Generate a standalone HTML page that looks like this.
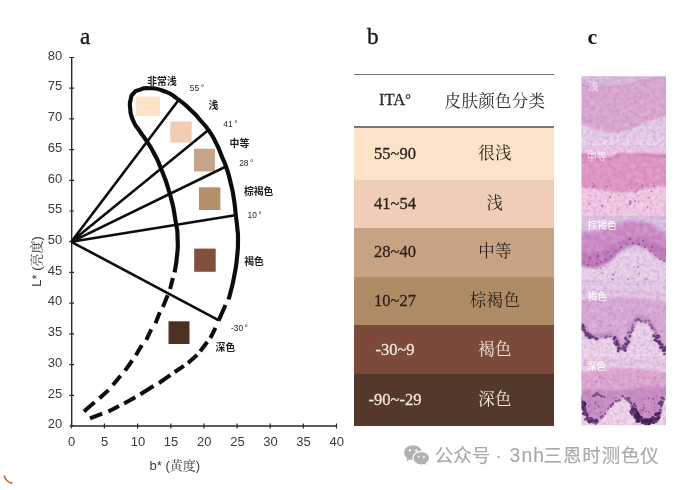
<!DOCTYPE html>
<html lang="zh"><head><meta charset="utf-8"><title>ITA skin colour classification</title>
<style>
html,body{margin:0;padding:0;background:#fff;}
body{width:677px;height:490px;position:relative;overflow:hidden;font-family:"Liberation Serif","Noto Serif CJK SC",serif;}
#chart{position:absolute;left:0;top:0;}
.pl{position:absolute;font-family:"Liberation Serif",serif;font-size:23.3px;line-height:24px;color:#1a1a1a;-webkit-text-stroke:0.35px #1a1a1a;filter:blur(0.35px);}
.tbl{position:absolute;left:353.5px;top:0;width:200.5px;height:490px;filter:blur(0.4px);}
.hl{position:absolute;left:0;width:100%;height:1.6px;background:#777;}
.hd{position:absolute;left:0;width:100%;top:76px;height:51px;color:#2a2a2a;}
.row{position:absolute;left:0;width:100%;}
.c1,.c2{position:absolute;top:50%;transform:translate(-50%,-50%);white-space:nowrap;font-size:16.5px;line-height:20px;}
.c1{left:41.5px;-webkit-text-stroke:0.3px currentColor;}
.c2{left:141.5px;letter-spacing:0.3px}
.wm{position:absolute;top:444.3px;font-family:"Liberation Sans","Noto Sans CJK SC",sans-serif;font-size:18.5px;line-height:24px;color:#a9a9a9;font-weight:400;-webkit-text-stroke:0.15px #a9a9a9;white-space:nowrap;filter:blur(0.3px);}
</style></head><body>
<svg id="chart" width="677" height="490" viewBox="0 0 677 490">
<defs><filter id="soft" x="-5%" y="-5%" width="110%" height="110%"><feGaussianBlur stdDeviation="0.45"/></filter></defs>
<g filter="url(#soft)">
<g stroke="#2a2a2a" stroke-width="1.4" fill="none">
<path d="M71.7,57.5 V426.7 M71,426 H336.6"/>
<path d="M69.3 426.0 H74 M69.3 395.3 H74 M69.3 364.6 H74 M69.3 333.9 H74 M69.3 303.2 H74 M69.3 272.4 H74 M69.3 241.7 H74 M69.3 211.0 H74 M69.3 180.3 H74 M69.3 149.6 H74 M69.3 118.9 H74 M69.3 88.2 H74 M69.3 57.5 H74 M71.3,423.6 V428.4 M104.4,423.6 V428.4 M137.6,423.6 V428.4 M170.8,423.6 V428.4 M203.9,423.6 V428.4 M237.1,423.6 V428.4 M270.2,423.6 V428.4 M303.3,423.6 V428.4 M336.5,423.6 V428.4 " stroke-width="1.2"/>
</g>
<g font-family="Liberation Sans, Arial, sans-serif" font-size="13" fill="#3a3a3a">
<text x="62.3" y="428.2" text-anchor="end">20</text>
<text x="62.3" y="397.5" text-anchor="end">25</text>
<text x="62.3" y="366.8" text-anchor="end">30</text>
<text x="62.3" y="336.1" text-anchor="end">35</text>
<text x="62.3" y="305.4" text-anchor="end">40</text>
<text x="62.3" y="274.6" text-anchor="end">45</text>
<text x="62.3" y="243.9" text-anchor="end">50</text>
<text x="62.3" y="213.2" text-anchor="end">55</text>
<text x="62.3" y="182.5" text-anchor="end">60</text>
<text x="62.3" y="151.8" text-anchor="end">65</text>
<text x="62.3" y="121.1" text-anchor="end">70</text>
<text x="62.3" y="90.4" text-anchor="end">75</text>
<text x="62.3" y="59.7" text-anchor="end">80</text>
<text x="71.6" y="446" text-anchor="middle">0</text>
<text x="104.7" y="446" text-anchor="middle">5</text>
<text x="137.9" y="446" text-anchor="middle">10</text>
<text x="171.1" y="446" text-anchor="middle">15</text>
<text x="204.2" y="446" text-anchor="middle">20</text>
<text x="237.4" y="446" text-anchor="middle">25</text>
<text x="270.5" y="446" text-anchor="middle">30</text>
<text x="303.6" y="446" text-anchor="middle">35</text>
<text x="336.8" y="446" text-anchor="middle">40</text>
</g>
<text x="149.5" y="469.5" font-family="Liberation Sans, 'Noto Serif CJK SC', sans-serif" font-size="13" fill="#3a3a3a">b* (黄度)</text>
<text transform="translate(40.5,286.7) rotate(-90)" font-family="Liberation Sans, 'Noto Serif CJK SC', sans-serif" font-size="13" fill="#3a3a3a">L* (亮度)</text>
<rect x="135.7" y="96.6" width="24.3" height="19.4" fill="#fce2c6"/>
<rect x="170.2" y="121.4" width="21.5" height="21.2" fill="#f3ccb4"/>
<rect x="194.0" y="148.7" width="20.9" height="22.8" fill="#c7a489"/>
<rect x="199.0" y="187.3" width="21.4" height="22.7" fill="#b58f6c"/>
<rect x="194.2" y="248.6" width="21.5" height="23.2" fill="#814f3a"/>
<rect x="168.5" y="321.3" width="21.0" height="22.7" fill="#4e3324"/>
<path d="M71.3,241.8 L178.6,100.0 M71.3,241.8 L208.4,130.0 M71.3,241.8 L226.0,166.5 M71.3,241.8 L235.3,215.2 M71.3,241.8 L218.9,320.4 " stroke="#0c0c0c" stroke-width="2.6" fill="none" stroke-linecap="butt"/>
<path d="M174.6,272.4 C175.4,266.9 176.0,267.3 177.0,256.0 C178.0,244.7 178.1,250.4 177.6,238.4 C177.1,226.4 177.9,234.6 175.4,220.0 C172.9,205.4 174.8,211.6 170.0,194.5 C165.2,177.4 166.4,182.4 161.0,168.6 C155.6,154.8 158.5,162.1 153.8,153.0 C149.1,143.9 151.5,148.6 146.8,141.3 C142.1,134.0 144.2,138.0 139.6,131.0 C135.0,124.0 136.1,127.8 133.0,120.3 C129.9,112.8 130.9,115.7 130.2,108.6 C129.5,101.5 129.6,104.2 130.8,99.0 C132.0,93.8 130.9,96.0 133.8,93.0 C136.7,90.0 134.5,91.5 139.4,89.9 C144.3,88.3 140.8,87.9 148.6,88.2 C156.4,88.5 153.4,87.2 162.9,90.7 C172.4,94.2 167.7,92.0 177.1,98.6 C186.5,105.2 183.2,102.9 191.2,110.4 C199.2,117.9 195.0,114.1 201.0,121.0 C207.0,127.9 204.0,123.6 209.2,131.2 C214.4,138.8 212.2,135.3 216.5,143.9 C220.8,152.5 218.7,148.9 222.0,156.9 C225.3,164.9 223.6,159.4 226.5,168.0 C229.4,176.6 228.1,172.4 230.6,182.7 C233.1,193.0 232.2,188.1 233.9,199.0 C235.6,209.9 234.7,205.6 235.8,215.3 C236.9,225.0 236.6,219.8 237.3,228.0 C238.0,236.2 238.1,230.4 238.0,240.0 C237.9,249.6 238.3,245.0 237.1,256.7 C235.9,268.4 236.5,263.5 234.4,275.1 C232.3,286.7 232.7,283.5 230.7,291.6 C228.7,299.7 229.2,296.9 228.5,299.5" stroke="#0c0c0c" stroke-width="4.15" fill="none"/>
<path d="M172.9,277.9 L170.1,288.9 M167.7,295.3 L162.9,306.9 M159.8,312.2 L155.5,323.3 M151.2,329.4 L146.3,339.8 M141.8,345.3 L135.8,355.3 M132.2,360.5 L125.1,370.7 M120.6,375.8 L112.9,385.0 M108.4,390.1 L99.6,398.3 M94.5,402.3 L83.9,411.5 M225.5,305.0 L218.6,320.6 M215.5,327.8 L210.4,338.0 M207.3,342.0 L200.2,351.2 M197.1,354.9 L188.0,363.0 M183.9,365.9 L174.7,372.0 M170.3,375.2 L159.0,383.0 M153.5,386.0 L140.4,394.3 M135.3,397.2 L124.1,403.4 M119.0,406.0 L108.4,411.5 M102.2,413.6 L90.0,418.3 " stroke="#0c0c0c" stroke-width="4.0" fill="none"/>
<g font-family="Liberation Sans, 'Noto Sans CJK SC', sans-serif" font-size="9.8" font-weight="700" fill="#1c1c1c">
<text x="147.3" y="84.6">非常浅</text>
<text x="208.6" y="109.4">浅</text>
<text x="229.6" y="147.4">中等</text>
<text x="244.0" y="194.8">棕褐色</text>
<text x="244.3" y="265.3">褐色</text>
<text x="215.6" y="351.3">深色</text>
</g>
<g font-family="Liberation Sans, sans-serif" font-size="8.4" fill="#262626">
<text x="189.8" y="91.4">55<tspan dx="1.5">°</tspan></text>
<text x="223.3" y="127.1">41<tspan dx="1.5">°</tspan></text>
<text x="239.2" y="166.0">28<tspan dx="1.5">°</tspan></text>
<text x="247.5" y="218.4">10<tspan dx="1.5">°</tspan></text>
<text x="231.0" y="330.5">-30<tspan dx="1.5">°</tspan></text>
</g>
</g>
</svg>
<div class="pl" style="left:80px;top:23.9px;">a</div>
<div class="pl" style="left:367px;top:23.6px;">b</div>
<div class="pl" style="left:587.5px;top:24.7px;font-weight:bold;font-size:22px;-webkit-text-stroke:0">c</div>
<div class="tbl">
<div class="hl" style="top:73.6px"></div>
<div class="hd"><span class="c1" style="margin-top:-1.5px">ITA<span style="font-size:14px;position:relative;top:-1px">°</span></span><span class="c2">皮肤颜色分类</span></div>
<div class="hl" style="top:126.2px"></div>
<div class="row" style="top:127.5px;height:52.0px;background:#fbe3c7;color:#2a221c"><span class="c1">55~90</span><span class="c2">很浅</span></div>
<div class="row" style="top:179.5px;height:48.5px;background:#efcdb9;color:#2a221c"><span class="c1">41~54</span><span class="c2">浅</span></div>
<div class="row" style="top:228.0px;height:48.5px;background:#c7a283;color:#2a1f18"><span class="c1">28~40</span><span class="c2">中等</span></div>
<div class="row" style="top:276.5px;height:48.3px;background:#b08c66;color:#2a1f18"><span class="c1">10~27</span><span class="c2">棕褐色</span></div>
<div class="row" style="top:324.8px;height:49.5px;background:#7c4a3a;color:#f1e6e0"><span class="c1">-30~9</span><span class="c2">褐色</span></div>
<div class="row" style="top:374.3px;height:51.7px;background:#54382b;color:#f1e6e0"><span class="c1">-90~-29</span><span class="c2">深色</span></div>
</div>
<svg id="strip" width="677" height="490" viewBox="0 0 677 490" style="position:absolute;left:0;top:0">
<defs>
<filter id="b1" x="-10%" y="-10%" width="120%" height="120%"><feGaussianBlur stdDeviation="1.1"/></filter>
<filter id="b2" x="-10%" y="-10%" width="120%" height="120%"><feGaussianBlur stdDeviation="0.7"/></filter>
<filter id="b4" x="-20%" y="-20%" width="140%" height="140%"><feGaussianBlur stdDeviation="0.9"/></filter>
<filter id="grain" x="0" y="0" width="100%" height="100%"><feTurbulence type="fractalNoise" baseFrequency="0.3" numOctaves="2" seed="4" result="n"/><feColorMatrix in="n" type="matrix" values="0 0 0 0 0.45  0 0 0 0 0.15  0 0 0 0 0.5  1.5 0 0 0 -0.6"/><feGaussianBlur stdDeviation="0.7"/></filter>
<filter id="grain2" x="0" y="0" width="100%" height="100%"><feTurbulence type="fractalNoise" baseFrequency="0.25" numOctaves="2" seed="11" result="n"/><feColorMatrix in="n" type="matrix" values="0 0 0 0 1  0 0 0 0 0.92  0 0 0 0 1  0 1.5 0 0 -0.62"/><feGaussianBlur stdDeviation="0.8"/></filter>
<filter id="b3" x="-20%" y="-20%" width="140%" height="140%"><feGaussianBlur stdDeviation="0.55"/></filter>
<clipPath id="cp0"><rect x="581.5" y="76.2" width="84.5" height="68.3"/></clipPath>
<clipPath id="cp1"><rect x="581.5" y="144.5" width="84.5" height="70.8"/></clipPath>
<clipPath id="cp2"><rect x="581.5" y="215.3" width="84.5" height="71.5"/></clipPath>
<clipPath id="cp3"><rect x="581.5" y="286.8" width="84.5" height="68.8"/></clipPath>
<clipPath id="cp4"><rect x="581.5" y="355.6" width="84.5" height="69.7"/></clipPath>
<clipPath id="cpa"><rect x="581.5" y="76.2" width="84.5" height="349.1"/></clipPath>
</defs>
<g clip-path="url(#cpa)">
<g clip-path="url(#cp0)"><g filter="url(#b1)">
<rect x="575" y="70" width="100" height="80" fill="#e4cde4"/>
<path d="M575,70 H675 V114 C660,118 648,121 636,127 C626,132 616,134 606,132 C596,130 588,126 575,124 Z" fill="#d9a4cd"/>
<path d="M575,70 H675 V77 C660,78 650,79 640,81 C630,84 622,88 612,87 C600,86 590,84 575,84 Z" fill="#d8badb"/>
<path d="M575,84 C590,84 600,86 612,87 C622,88 630,84 640,81 C650,79 660,78 675,77" stroke="#c99bcb" stroke-width="1.5" fill="none"/>
<rect x="575" y="138" width="100" height="8" fill="#ecd2ea" opacity="0.8"/>
</g></g>
<g clip-path="url(#cp1)"><g filter="url(#b1)">
<rect x="575" y="140" width="100" height="80" fill="#f3c9e2"/>
<path d="M575,154 C590,155 600,159 610,158 C616,157 620,152 627,152 C634,152 640,155 650,155 C660,155 668,156 675,157 V185 C660,186 650,188 640,190 C630,192 620,194 612,192 C600,189 590,188 575,187 Z" fill="#df92bf"/>
<path d="M575,154 C590,155 600,159 610,158 C616,157 620,152 627,152 C634,152 640,155 650,155 C660,155 668,156 675,157" stroke="#c770a6" stroke-width="2.6" fill="none"/>
<rect x="575" y="140" width="100" height="6.5" fill="#dcc3e2"/>
<rect x="575" y="146" width="100" height="7" fill="#efc8e3"/>
</g>
<g filter="url(#b3)"><g fill="#a65a9a" opacity="0.75"><circle cx="609.9" cy="196.9" r="1.1"/><circle cx="589.8" cy="204.2" r="0.9"/><circle cx="588.6" cy="203.6" r="0.6"/><circle cx="618.7" cy="195.3" r="0.7"/><circle cx="618.0" cy="209.7" r="0.7"/><circle cx="601.9" cy="205.9" r="1.3"/><circle cx="630.2" cy="201.5" r="1.3"/><circle cx="587.7" cy="210.3" r="0.8"/><circle cx="595.5" cy="196.2" r="0.8"/><circle cx="649.3" cy="197.4" r="1.0"/><circle cx="635.1" cy="201.1" r="1.0"/><circle cx="589.0" cy="195.1" r="0.7"/><circle cx="638.4" cy="202.1" r="0.8"/><circle cx="630.8" cy="202.6" r="0.8"/><circle cx="647.6" cy="207.3" r="0.8"/><circle cx="630.0" cy="204.0" r="1.2"/></g><g fill="#8c4a8a" opacity="0.70"><circle cx="642.4" cy="185.6" r="1.1"/><circle cx="593.4" cy="186.8" r="1.0"/><circle cx="596.2" cy="187.4" r="0.6"/><circle cx="637.5" cy="189.9" r="0.9"/><circle cx="654.0" cy="185.8" r="0.9"/><circle cx="631.5" cy="188.2" r="0.8"/><circle cx="651.2" cy="191.5" r="0.8"/><circle cx="637.1" cy="183.5" r="1.0"/><circle cx="635.8" cy="191.9" r="1.0"/><circle cx="606.8" cy="186.5" r="0.9"/><circle cx="585.8" cy="187.2" r="0.7"/><circle cx="593.4" cy="183.5" r="1.0"/><circle cx="594.3" cy="185.2" r="0.8"/><circle cx="653.7" cy="183.7" r="0.8"/></g></g>
</g>
<g clip-path="url(#cp2)"><g filter="url(#b1)">
<rect x="575" y="210" width="100" height="80" fill="#e7d1e8"/>
<rect x="575" y="210" width="100" height="40" fill="#dac1df"/>
<path d="M575,233 C590,233 600,231 610,227 C618,223 625,221 635,221 C645,221 652,224 658,229 C662,232 668,235 675,236 V263 C668,263 660,261 654,256 C648,250 642,245 634,245 C626,246 620,252 614,258 C606,266 598,269 590,268 C584,267 580,265 575,265 Z" fill="#ca86c0"/>
<path d="M575,252 C590,254 600,252 610,247 C620,240 628,236 636,236 C646,237 654,244 675,250 V263 C668,263 660,261 654,256 C648,250 642,245 634,245 C626,246 620,252 614,258 C606,266 598,269 590,268 C584,267 580,265 575,265 Z" fill="#b76cb2" opacity="0.75"/>
<path d="M575,233 C590,233 600,231 610,227 C618,223 625,221 635,221 C645,221 652,224 658,229 C662,232 668,235 675,236" stroke="#cf9ad2" stroke-width="2.5" fill="none"/>
<rect x="575" y="280" width="100" height="8" fill="#e0c6e8"/>
</g>
<g filter="url(#b3)"><g fill="#a566a8" opacity="0.70"><circle cx="628.0" cy="279.3" r="1.1"/><circle cx="653.1" cy="270.2" r="0.8"/><circle cx="612.7" cy="279.3" r="1.2"/><circle cx="596.1" cy="268.6" r="0.7"/><circle cx="602.7" cy="273.3" r="1.0"/><circle cx="605.0" cy="266.1" r="0.9"/><circle cx="613.5" cy="274.5" r="1.2"/><circle cx="639.2" cy="273.7" r="1.0"/><circle cx="638.1" cy="266.8" r="1.1"/><circle cx="646.4" cy="279.1" r="1.1"/><circle cx="615.4" cy="272.0" r="0.7"/><circle cx="634.7" cy="266.9" r="0.6"/><circle cx="600.7" cy="268.4" r="0.8"/><circle cx="588.2" cy="266.0" r="0.7"/></g>
<g fill="#7c3c8c" opacity="0.8"><circle cx="584.0" cy="262.0" r="0.9"/><circle cx="588.0" cy="265.0" r="1.0"/><circle cx="592.0" cy="266.0" r="0.8"/><circle cx="597.0" cy="264.0" r="1.2"/><circle cx="601.0" cy="262.0" r="1.1"/><circle cx="606.0" cy="260.0" r="0.9"/><circle cx="611.0" cy="256.0" r="0.9"/><circle cx="616.0" cy="251.0" r="1.0"/><circle cx="621.0" cy="247.0" r="1.0"/><circle cx="627.0" cy="244.0" r="0.9"/><circle cx="633.0" cy="243.0" r="1.2"/><circle cx="639.0" cy="244.0" r="1.3"/><circle cx="645.0" cy="247.0" r="1.0"/><circle cx="650.0" cy="251.0" r="1.0"/><circle cx="655.0" cy="255.0" r="0.8"/><circle cx="660.0" cy="259.0" r="0.9"/><circle cx="664.0" cy="261.0" r="1.0"/><circle cx="590.0" cy="258.0" r="0.9"/><circle cx="598.0" cy="256.0" r="1.2"/><circle cx="608.0" cy="252.0" r="0.9"/><circle cx="619.0" cy="243.0" r="0.8"/><circle cx="630.0" cy="239.0" r="1.3"/><circle cx="643.0" cy="241.0" r="1.1"/><circle cx="652.0" cy="247.0" r="0.9"/></g>
</g></g>
<g clip-path="url(#cp3)"><g filter="url(#b1)">
<rect x="575" y="280" width="100" height="80" fill="#ebd3e8"/>
<path d="M575,286 H675 V357 L676.3,356.8 L665.7,354.3 L661.6,350.3 L656.7,337.2 L651.8,327.4 L645.3,320.8 L639.5,318.4 L633.8,325.8 L628.9,337.2 L625.7,348.6 L620.8,350.3 L615.8,342.1 L612.9,336.5 L607.7,337.2 L596.2,338.8 L589.7,338.0 L584.8,333.9 L581.5,325.8 L575.0,320.8 Z" fill="#d7a7d3"/>
<path d="M575.0,320.8 L581.5,325.8 L584.8,333.9 L589.7,338.0 L596.2,338.8 L607.7,337.2 L612.9,336.5 L615.8,342.1 L620.8,350.3 L625.7,348.6 L628.9,337.2 L633.8,325.8 L639.5,318.4 L645.3,320.8 L651.8,327.4 L656.7,337.2 L661.6,350.3 L665.7,354.3 L676.3,356.8" stroke="#b885be" stroke-width="5" fill="none" stroke-linejoin="round" opacity="0.8" transform="translate(0,-2.5)"/>
<path d="M575,286 H675 V305 C660,300 645,297 630,297 C610,297 595,299 575,301 Z" fill="#e4cbe4"/>
<path d="M575,293 C600,290 640,291 675,297" stroke="#d6b6dc" stroke-width="1.6" fill="none"/>
</g><g filter="url(#b2)">
<g fill="#6b3f8c" opacity="0.75"><circle cx="632.5" cy="330.3" r="1.5"/><circle cx="659.6" cy="343.7" r="1.1"/><circle cx="593.0" cy="336.1" r="1.3"/><circle cx="615.7" cy="341.8" r="1.5"/><circle cx="659.8" cy="341.3" r="1.3"/><circle cx="601.3" cy="336.7" r="0.8"/><circle cx="578.4" cy="323.0" r="1.3"/><circle cx="667.6" cy="354.7" r="1.5"/><circle cx="668.9" cy="354.5" r="1.0"/><circle cx="597.8" cy="338.7" r="1.4"/><circle cx="657.3" cy="341.2" r="1.4"/><circle cx="582.4" cy="327.8" r="1.3"/><circle cx="652.1" cy="328.1" r="1.4"/><circle cx="616.4" cy="338.3" r="1.1"/><circle cx="623.1" cy="348.3" r="0.9"/><circle cx="588.4" cy="336.3" r="1.4"/><circle cx="590.7" cy="334.5" r="1.3"/><circle cx="616.7" cy="342.9" r="0.8"/><circle cx="671.2" cy="353.7" r="1.5"/><circle cx="627.1" cy="345.3" r="0.9"/><circle cx="605.9" cy="336.9" r="1.2"/><circle cx="606.9" cy="336.3" r="1.4"/><circle cx="616.3" cy="343.8" r="1.4"/><circle cx="625.5" cy="347.2" r="1.2"/><circle cx="631.2" cy="333.1" r="0.9"/><circle cx="575.7" cy="319.5" r="1.1"/><circle cx="649.7" cy="324.5" r="1.2"/><circle cx="632.3" cy="327.9" r="1.2"/><circle cx="605.3" cy="337.8" r="1.2"/><circle cx="632.7" cy="325.4" r="1.1"/><circle cx="635.8" cy="320.6" r="1.3"/><circle cx="625.7" cy="343.4" r="1.5"/><circle cx="649.0" cy="320.4" r="1.0"/><circle cx="634.1" cy="327.1" r="0.9"/><circle cx="586.2" cy="334.3" r="1.0"/><circle cx="582.0" cy="326.3" r="1.4"/><circle cx="590.5" cy="335.7" r="0.9"/><circle cx="661.6" cy="347.2" r="1.5"/><circle cx="618.5" cy="349.1" r="1.4"/><circle cx="590.9" cy="337.5" r="1.0"/><circle cx="596.7" cy="338.8" r="0.8"/><circle cx="632.0" cy="328.6" r="1.0"/><circle cx="637.7" cy="319.2" r="1.5"/><circle cx="655.8" cy="333.3" r="1.0"/><circle cx="580.1" cy="322.7" r="0.9"/><circle cx="626.3" cy="346.8" r="1.0"/><circle cx="591.0" cy="336.3" r="1.3"/><circle cx="585.1" cy="330.6" r="1.1"/><circle cx="583.9" cy="327.1" r="1.4"/><circle cx="583.6" cy="329.0" r="1.4"/><circle cx="626.2" cy="344.4" r="1.4"/><circle cx="609.4" cy="336.7" r="1.0"/><circle cx="585.2" cy="333.2" r="0.9"/><circle cx="613.6" cy="339.1" r="1.0"/><circle cx="629.2" cy="337.1" r="0.8"/><circle cx="607.3" cy="336.4" r="1.2"/><circle cx="594.2" cy="337.9" r="0.9"/><circle cx="656.4" cy="338.2" r="1.4"/><circle cx="619.2" cy="348.8" r="1.5"/><circle cx="617.2" cy="340.7" r="1.2"/><circle cx="622.1" cy="348.8" r="0.9"/><circle cx="582.6" cy="326.7" r="0.9"/><circle cx="584.5" cy="327.9" r="1.3"/><circle cx="610.9" cy="336.3" r="1.1"/><circle cx="590.6" cy="337.2" r="1.5"/><circle cx="671.4" cy="354.4" r="1.5"/><circle cx="614.0" cy="337.4" r="1.1"/><circle cx="627.1" cy="340.2" r="1.2"/><circle cx="575.6" cy="320.5" r="1.1"/><circle cx="581.0" cy="323.7" r="1.0"/></g>
<g fill="#4a2468" opacity="0.85"><circle cx="586.1" cy="335.3" r="1.5"/><circle cx="590.5" cy="336.3" r="1.2"/><circle cx="596.1" cy="339.1" r="1.5"/><circle cx="583.0" cy="325.1" r="1.4"/><circle cx="590.4" cy="336.6" r="1.4"/><circle cx="587.3" cy="333.0" r="1.6"/><circle cx="588.9" cy="334.6" r="1.5"/><circle cx="583.9" cy="330.4" r="1.3"/><circle cx="583.0" cy="326.9" r="1.4"/><circle cx="587.9" cy="335.0" r="1.0"/><circle cx="591.4" cy="336.1" r="1.4"/><circle cx="590.4" cy="337.1" r="1.2"/><circle cx="582.0" cy="329.0" r="1.1"/><circle cx="591.5" cy="336.9" r="1.3"/><circle cx="585.3" cy="332.7" r="1.4"/><circle cx="589.1" cy="336.5" r="1.2"/><circle cx="589.9" cy="338.3" r="1.0"/><circle cx="581.9" cy="328.7" r="1.5"/><circle cx="588.9" cy="337.8" r="1.3"/><circle cx="587.4" cy="335.6" r="1.1"/><circle cx="595.2" cy="337.7" r="1.3"/><circle cx="592.9" cy="337.1" r="1.2"/></g>
<g fill="#45205f" opacity="0.85"><circle cx="618.7" cy="345.0" r="1.5"/><circle cx="614.1" cy="343.0" r="1.1"/><circle cx="625.5" cy="338.1" r="1.6"/><circle cx="619.4" cy="345.1" r="1.0"/><circle cx="613.8" cy="339.6" r="1.2"/><circle cx="616.4" cy="344.3" r="1.7"/><circle cx="615.1" cy="337.2" r="1.1"/><circle cx="628.4" cy="332.6" r="1.2"/><circle cx="618.1" cy="351.0" r="1.5"/><circle cx="620.3" cy="348.6" r="1.0"/><circle cx="617.0" cy="341.4" r="1.7"/><circle cx="618.4" cy="347.8" r="1.2"/><circle cx="624.0" cy="347.6" r="1.6"/><circle cx="628.4" cy="342.3" r="1.4"/><circle cx="628.8" cy="341.8" r="1.4"/><circle cx="626.7" cy="339.5" r="1.0"/><circle cx="630.0" cy="336.1" r="1.3"/><circle cx="619.0" cy="344.4" r="1.2"/><circle cx="625.8" cy="344.5" r="1.3"/><circle cx="617.8" cy="344.8" r="1.7"/><circle cx="625.0" cy="350.3" r="1.8"/><circle cx="624.4" cy="349.5" r="1.1"/><circle cx="621.4" cy="348.5" r="1.2"/><circle cx="626.8" cy="344.3" r="1.3"/><circle cx="621.6" cy="348.4" r="1.3"/><circle cx="615.4" cy="344.3" r="1.1"/><circle cx="622.9" cy="345.8" r="1.2"/><circle cx="618.8" cy="348.2" r="1.4"/><circle cx="630.7" cy="332.3" r="1.0"/><circle cx="614.8" cy="337.9" r="1.4"/></g>
<g fill="#3f1c5a" opacity="0.90"><circle cx="661.9" cy="345.0" r="1.8"/><circle cx="665.3" cy="346.9" r="1.2"/><circle cx="657.4" cy="336.5" r="1.6"/><circle cx="664.5" cy="349.7" r="1.7"/><circle cx="659.0" cy="342.2" r="1.7"/><circle cx="659.1" cy="336.8" r="1.3"/><circle cx="656.6" cy="337.4" r="1.6"/><circle cx="657.9" cy="335.9" r="1.5"/><circle cx="659.1" cy="342.7" r="1.0"/><circle cx="654.9" cy="340.0" r="1.6"/><circle cx="663.0" cy="350.7" r="1.2"/><circle cx="664.8" cy="350.8" r="1.0"/><circle cx="659.2" cy="342.0" r="1.2"/><circle cx="662.1" cy="346.2" r="1.0"/><circle cx="656.6" cy="340.9" r="1.2"/><circle cx="662.6" cy="347.6" r="1.2"/><circle cx="664.3" cy="354.3" r="1.2"/><circle cx="657.5" cy="336.4" r="1.9"/><circle cx="660.1" cy="344.0" r="1.4"/><circle cx="662.0" cy="346.4" r="1.4"/><circle cx="658.0" cy="337.2" r="1.0"/><circle cx="653.9" cy="335.9" r="1.8"/><circle cx="664.9" cy="347.9" r="1.3"/><circle cx="659.1" cy="335.9" r="1.0"/><circle cx="660.4" cy="347.5" r="1.3"/><circle cx="658.0" cy="336.4" r="1.3"/></g>
<g fill="#5b3079" opacity="0.75"><circle cx="654.5" cy="329.6" r="0.9"/><circle cx="645.9" cy="320.2" r="1.0"/><circle cx="639.5" cy="320.0" r="1.3"/><circle cx="641.3" cy="322.1" r="0.8"/><circle cx="646.6" cy="320.6" r="0.8"/><circle cx="642.0" cy="320.5" r="0.9"/><circle cx="651.0" cy="325.1" r="0.9"/><circle cx="652.4" cy="327.6" r="1.2"/><circle cx="644.5" cy="321.5" r="1.2"/><circle cx="651.0" cy="325.9" r="0.8"/><circle cx="641.0" cy="321.3" r="1.3"/><circle cx="645.6" cy="322.8" r="1.0"/></g>
</g>
<g filter="url(#b3)"><g fill="#9a62a8" opacity="0.50"><circle cx="658.2" cy="308.8" r="0.8"/><circle cx="643.1" cy="322.3" r="0.8"/><circle cx="632.6" cy="311.9" r="0.6"/><circle cx="612.9" cy="321.4" r="0.5"/><circle cx="599.8" cy="320.8" r="0.6"/><circle cx="589.2" cy="305.7" r="0.7"/><circle cx="610.1" cy="325.6" r="0.9"/><circle cx="663.0" cy="310.6" r="0.5"/><circle cx="591.7" cy="315.5" r="0.8"/><circle cx="619.8" cy="309.9" r="0.7"/><circle cx="633.6" cy="319.2" r="0.8"/><circle cx="651.8" cy="319.0" r="0.5"/><circle cx="651.3" cy="311.2" r="0.7"/><circle cx="613.8" cy="320.5" r="0.6"/><circle cx="603.8" cy="310.2" r="0.6"/><circle cx="654.7" cy="317.1" r="0.6"/><circle cx="615.7" cy="325.8" r="0.7"/><circle cx="602.5" cy="322.0" r="0.8"/><circle cx="663.3" cy="307.1" r="0.7"/><circle cx="649.5" cy="322.7" r="0.9"/><circle cx="587.2" cy="311.2" r="0.5"/><circle cx="599.2" cy="325.4" r="0.7"/><circle cx="658.4" cy="312.8" r="0.8"/><circle cx="619.9" cy="310.5" r="0.8"/><circle cx="659.7" cy="307.2" r="0.7"/><circle cx="633.6" cy="309.6" r="0.6"/></g><g fill="#a87ab4" opacity="0.50"><circle cx="595.3" cy="346.6" r="0.6"/><circle cx="632.0" cy="350.2" r="0.6"/><circle cx="584.9" cy="347.6" r="0.8"/><circle cx="598.8" cy="347.5" r="0.6"/><circle cx="647.6" cy="349.4" r="0.5"/><circle cx="592.1" cy="348.2" r="0.7"/><circle cx="635.1" cy="345.7" r="0.6"/><circle cx="639.6" cy="348.3" r="0.6"/></g></g>
</g>
<g clip-path="url(#cp4)"><g filter="url(#b1)">
<rect x="575" y="350" width="100" height="80" fill="#f1d4e8"/>
<path d="M575,355 H675 V394.1 L676.3,394.1 L664.9,395.8 L661.6,405.6 L660.0,415.4 L655.1,422.2 L645.3,423.9 L637.1,420.3 L632.2,413.7 L630.6,403.9 L624.0,397.4 L615.8,400.7 L610.1,405.6 L604.4,415.4 L596.2,423.0 L588.1,421.9 L583.2,412.1 L581.5,399.0 L575.0,397.4 Z" fill="#dca4ce"/>
<path d="M575,392 C590,388 600,390 612,391 C624,390 640,386 675,386 V394.1 L676.3,394.1 L664.9,395.8 L661.6,405.6 L660.0,415.4 L655.1,422.2 L645.3,423.9 L637.1,420.3 L632.2,413.7 L630.6,403.9 L624.0,397.4 L615.8,400.7 L610.1,405.6 L604.4,415.4 L596.2,423.0 L588.1,421.9 L583.2,412.1 L581.5,399.0 L575.0,397.4 Z" fill="#ba7ab8" opacity="0.7"/>
<path d="M575,355 H675 V374 C655,370 640,368 620,368 C600,368 590,371 575,373 Z" fill="#eacfe4"/>
<path d="M575,364 C600,359 640,360 675,366" stroke="#dcb8dc" stroke-width="1.6" fill="none"/>
</g><g filter="url(#b2)">
<g fill="#5b3079" opacity="0.80"><circle cx="586.1" cy="414.5" r="1.2"/><circle cx="585.3" cy="419.2" r="1.5"/><circle cx="587.8" cy="420.2" r="0.9"/><circle cx="576.6" cy="395.9" r="1.4"/><circle cx="590.0" cy="420.3" r="0.9"/><circle cx="575.1" cy="396.2" r="1.4"/><circle cx="581.2" cy="397.6" r="1.2"/><circle cx="582.2" cy="403.8" r="1.4"/><circle cx="580.2" cy="399.9" r="1.5"/><circle cx="584.6" cy="408.3" r="1.5"/><circle cx="597.3" cy="422.6" r="1.1"/><circle cx="616.0" cy="397.9" r="0.9"/><circle cx="610.4" cy="405.9" r="1.4"/><circle cx="613.0" cy="403.2" r="1.1"/><circle cx="597.1" cy="421.5" r="1.0"/><circle cx="608.1" cy="408.8" r="1.2"/><circle cx="611.0" cy="407.2" r="0.9"/><circle cx="600.8" cy="416.4" r="1.0"/><circle cx="589.3" cy="420.6" r="1.3"/><circle cx="592.1" cy="421.5" r="1.2"/><circle cx="595.8" cy="423.6" r="1.3"/><circle cx="593.7" cy="422.6" r="0.9"/><circle cx="581.8" cy="401.5" r="1.1"/><circle cx="598.4" cy="421.9" r="0.9"/><circle cx="608.4" cy="407.2" r="0.8"/><circle cx="594.9" cy="423.6" r="0.9"/><circle cx="616.0" cy="401.1" r="1.4"/><circle cx="584.0" cy="406.2" r="1.5"/><circle cx="619.1" cy="400.3" r="1.5"/><circle cx="579.3" cy="399.0" r="0.9"/><circle cx="616.5" cy="401.2" r="0.9"/><circle cx="597.2" cy="421.7" r="1.0"/><circle cx="596.7" cy="422.0" r="0.9"/><circle cx="584.0" cy="403.2" r="1.4"/><circle cx="582.7" cy="403.9" r="1.2"/><circle cx="602.9" cy="416.4" r="1.2"/><circle cx="601.4" cy="417.5" r="1.5"/><circle cx="602.4" cy="416.3" r="1.0"/><circle cx="622.8" cy="396.2" r="1.3"/><circle cx="592.7" cy="422.9" r="0.8"/><circle cx="612.1" cy="404.5" r="1.5"/><circle cx="600.9" cy="416.8" r="0.8"/><circle cx="578.7" cy="398.1" r="1.1"/><circle cx="597.6" cy="421.1" r="1.0"/><circle cx="605.1" cy="413.8" r="1.0"/><circle cx="581.6" cy="400.1" r="1.2"/></g>
<g fill="#5b3079" opacity="0.80"><circle cx="653.4" cy="422.9" r="1.1"/><circle cx="631.4" cy="403.5" r="0.9"/><circle cx="627.8" cy="399.9" r="1.3"/><circle cx="639.6" cy="420.5" r="1.3"/><circle cx="650.2" cy="423.1" r="1.1"/><circle cx="663.3" cy="398.5" r="1.4"/><circle cx="625.4" cy="398.5" r="1.0"/><circle cx="627.1" cy="399.3" r="1.2"/><circle cx="663.9" cy="399.5" r="1.2"/><circle cx="645.8" cy="421.2" r="0.9"/><circle cx="634.5" cy="416.2" r="1.4"/><circle cx="660.6" cy="410.3" r="1.4"/><circle cx="658.6" cy="413.6" r="1.1"/><circle cx="632.4" cy="410.9" r="0.8"/><circle cx="635.8" cy="415.9" r="1.4"/><circle cx="659.1" cy="416.7" r="1.1"/><circle cx="659.9" cy="409.9" r="1.2"/><circle cx="664.5" cy="399.2" r="0.8"/><circle cx="632.5" cy="414.6" r="1.5"/><circle cx="659.2" cy="414.9" r="1.0"/><circle cx="633.2" cy="410.7" r="1.3"/><circle cx="658.3" cy="418.1" r="1.4"/><circle cx="659.3" cy="415.5" r="1.3"/><circle cx="651.4" cy="422.4" r="1.2"/><circle cx="628.6" cy="400.2" r="0.8"/><circle cx="630.5" cy="401.6" r="0.9"/><circle cx="627.0" cy="398.3" r="1.2"/><circle cx="658.5" cy="416.0" r="1.2"/><circle cx="637.8" cy="417.5" r="1.4"/><circle cx="629.0" cy="398.2" r="1.5"/><circle cx="629.8" cy="402.5" r="0.8"/><circle cx="662.0" cy="404.3" r="1.4"/><circle cx="655.6" cy="420.8" r="0.9"/><circle cx="660.6" cy="413.1" r="1.1"/><circle cx="625.1" cy="398.3" r="1.3"/><circle cx="636.2" cy="421.7" r="1.2"/><circle cx="661.3" cy="405.2" r="1.1"/><circle cx="642.1" cy="420.5" r="1.3"/><circle cx="649.6" cy="424.1" r="0.9"/><circle cx="661.1" cy="407.7" r="0.9"/><circle cx="660.5" cy="411.9" r="1.1"/><circle cx="646.0" cy="422.2" r="1.1"/><circle cx="636.7" cy="417.5" r="1.5"/><circle cx="633.8" cy="415.9" r="1.1"/><circle cx="629.6" cy="401.9" r="1.4"/><circle cx="658.9" cy="415.0" r="1.0"/><circle cx="637.9" cy="421.6" r="0.9"/><circle cx="662.9" cy="402.8" r="1.0"/><circle cx="661.6" cy="401.8" r="1.4"/><circle cx="630.7" cy="411.4" r="1.3"/></g>
<g fill="#2f1248" opacity="0.90"><circle cx="589.3" cy="419.4" r="1.4"/><circle cx="584.7" cy="404.1" r="1.8"/><circle cx="581.6" cy="407.0" r="1.6"/><circle cx="580.9" cy="405.6" r="1.3"/><circle cx="583.1" cy="408.6" r="1.9"/><circle cx="584.1" cy="406.5" r="1.4"/><circle cx="587.1" cy="416.3" r="1.3"/><circle cx="596.1" cy="420.4" r="2.0"/><circle cx="580.6" cy="406.8" r="1.8"/><circle cx="588.7" cy="420.6" r="1.7"/><circle cx="583.8" cy="405.7" r="1.1"/><circle cx="585.2" cy="410.4" r="1.6"/><circle cx="587.4" cy="418.1" r="1.6"/><circle cx="584.7" cy="409.7" r="1.5"/><circle cx="587.2" cy="415.2" r="1.3"/><circle cx="591.0" cy="418.5" r="1.7"/><circle cx="592.0" cy="419.0" r="1.5"/><circle cx="583.9" cy="409.6" r="1.5"/><circle cx="590.4" cy="418.6" r="1.3"/><circle cx="583.3" cy="413.4" r="1.5"/><circle cx="589.4" cy="418.6" r="1.7"/><circle cx="589.6" cy="421.4" r="2.0"/><circle cx="582.4" cy="402.3" r="1.8"/><circle cx="594.6" cy="420.8" r="1.6"/><circle cx="586.4" cy="414.2" r="1.7"/><circle cx="590.8" cy="420.4" r="2.0"/><circle cx="583.3" cy="406.0" r="1.8"/><circle cx="584.7" cy="404.7" r="1.2"/><circle cx="583.9" cy="409.1" r="1.5"/><circle cx="584.7" cy="411.7" r="1.3"/><circle cx="583.7" cy="404.5" r="1.6"/><circle cx="584.3" cy="406.2" r="1.3"/><circle cx="583.9" cy="402.7" r="1.7"/><circle cx="584.9" cy="413.7" r="2.0"/></g>
<g fill="#45205f" opacity="0.80"><circle cx="597.1" cy="393.3" r="1.3"/><circle cx="599.5" cy="394.8" r="1.0"/><circle cx="604.2" cy="397.0" r="1.0"/><circle cx="598.4" cy="395.1" r="1.0"/><circle cx="592.9" cy="395.9" r="1.0"/><circle cx="596.5" cy="394.8" r="1.2"/><circle cx="601.4" cy="396.2" r="1.3"/><circle cx="594.6" cy="394.7" r="1.3"/><circle cx="595.6" cy="394.7" r="0.9"/><circle cx="594.3" cy="396.1" r="1.0"/></g>
<g fill="#26093c" opacity="0.92"><circle cx="635.7" cy="414.7" r="2.0"/><circle cx="642.7" cy="422.2" r="2.0"/><circle cx="637.8" cy="414.5" r="2.0"/><circle cx="653.7" cy="418.9" r="2.0"/><circle cx="636.2" cy="414.9" r="1.9"/><circle cx="645.2" cy="419.6" r="1.5"/><circle cx="638.7" cy="419.0" r="1.3"/><circle cx="645.8" cy="422.7" r="1.7"/><circle cx="647.3" cy="421.1" r="2.0"/><circle cx="642.7" cy="420.4" r="2.0"/><circle cx="638.5" cy="421.8" r="1.3"/><circle cx="650.3" cy="420.4" r="1.8"/><circle cx="653.4" cy="419.9" r="2.2"/><circle cx="643.0" cy="421.7" r="1.2"/><circle cx="652.4" cy="419.3" r="2.1"/><circle cx="639.7" cy="420.1" r="2.0"/><circle cx="635.6" cy="417.6" r="1.8"/><circle cx="655.5" cy="421.0" r="1.6"/><circle cx="645.7" cy="423.2" r="2.2"/><circle cx="651.5" cy="419.3" r="1.5"/><circle cx="637.6" cy="417.8" r="2.0"/><circle cx="633.2" cy="409.0" r="1.7"/><circle cx="633.9" cy="412.5" r="1.4"/><circle cx="656.4" cy="414.2" r="2.0"/><circle cx="656.3" cy="414.6" r="1.8"/><circle cx="650.7" cy="419.1" r="1.4"/><circle cx="649.1" cy="421.2" r="1.3"/><circle cx="639.0" cy="416.8" r="2.1"/><circle cx="649.3" cy="422.7" r="2.0"/><circle cx="647.9" cy="422.4" r="1.6"/><circle cx="638.0" cy="420.1" r="2.1"/><circle cx="633.7" cy="412.3" r="1.3"/><circle cx="652.9" cy="417.3" r="1.6"/><circle cx="631.8" cy="412.6" r="2.1"/><circle cx="657.7" cy="414.1" r="1.3"/><circle cx="651.0" cy="421.5" r="1.2"/><circle cx="632.8" cy="410.3" r="2.2"/><circle cx="635.3" cy="412.9" r="1.2"/><circle cx="653.5" cy="422.7" r="1.4"/><circle cx="634.3" cy="410.0" r="2.1"/><circle cx="655.6" cy="421.3" r="1.9"/><circle cx="645.6" cy="420.7" r="2.2"/><circle cx="653.6" cy="420.3" r="1.9"/><circle cx="657.2" cy="419.2" r="1.9"/><circle cx="637.3" cy="414.4" r="1.3"/><circle cx="640.1" cy="419.1" r="1.9"/><circle cx="636.2" cy="413.7" r="1.8"/><circle cx="649.0" cy="421.5" r="2.0"/><circle cx="659.0" cy="413.0" r="1.5"/><circle cx="636.5" cy="412.3" r="2.0"/><circle cx="637.2" cy="416.8" r="2.0"/><circle cx="648.7" cy="422.4" r="2.1"/><circle cx="641.0" cy="418.1" r="2.1"/><circle cx="655.8" cy="419.0" r="1.5"/><circle cx="641.0" cy="419.2" r="2.1"/><circle cx="635.2" cy="409.7" r="2.1"/><circle cx="647.9" cy="424.0" r="2.0"/><circle cx="653.4" cy="419.8" r="1.3"/><circle cx="648.0" cy="420.2" r="2.0"/><circle cx="658.5" cy="417.4" r="1.9"/></g>
<g fill="#3f1c5a" opacity="0.85"><circle cx="632.9" cy="408.5" r="1.5"/><circle cx="632.7" cy="410.5" r="1.5"/><circle cx="633.2" cy="411.5" r="1.5"/><circle cx="632.1" cy="411.0" r="1.4"/><circle cx="632.6" cy="406.1" r="1.4"/><circle cx="631.7" cy="406.5" r="1.3"/><circle cx="635.6" cy="406.1" r="1.2"/><circle cx="631.1" cy="403.5" r="1.1"/><circle cx="632.2" cy="409.8" r="1.0"/><circle cx="634.2" cy="404.1" r="1.3"/></g>
<g fill="#45205f" opacity="0.80"><circle cx="660.8" cy="403.6" r="1.2"/><circle cx="661.7" cy="397.5" r="1.5"/><circle cx="661.1" cy="404.1" r="1.0"/><circle cx="661.3" cy="405.4" r="1.4"/><circle cx="662.8" cy="401.8" r="0.9"/><circle cx="660.6" cy="402.0" r="1.5"/><circle cx="659.1" cy="403.3" r="1.5"/><circle cx="660.2" cy="401.9" r="1.0"/></g>
</g>
<g filter="url(#b3)"><g fill="#8a4f9c" opacity="0.50"><circle cx="661.3" cy="397.8" r="0.6"/><circle cx="587.1" cy="381.6" r="0.7"/><circle cx="656.2" cy="395.9" r="0.9"/><circle cx="587.8" cy="393.3" r="0.9"/><circle cx="635.7" cy="397.7" r="0.5"/><circle cx="595.6" cy="392.6" r="1.0"/><circle cx="638.2" cy="382.6" r="0.8"/><circle cx="644.6" cy="378.3" r="0.7"/><circle cx="604.6" cy="378.7" r="0.7"/><circle cx="597.5" cy="381.2" r="0.6"/><circle cx="638.2" cy="376.3" r="0.9"/><circle cx="599.6" cy="376.8" r="1.0"/><circle cx="601.6" cy="396.5" r="0.9"/><circle cx="655.1" cy="379.1" r="0.7"/><circle cx="591.8" cy="396.4" r="0.9"/><circle cx="634.3" cy="386.0" r="0.7"/><circle cx="649.8" cy="386.5" r="0.8"/><circle cx="595.4" cy="380.9" r="0.5"/><circle cx="641.1" cy="388.2" r="0.6"/><circle cx="653.7" cy="381.9" r="0.7"/><circle cx="596.5" cy="382.0" r="0.9"/><circle cx="610.8" cy="379.7" r="0.7"/><circle cx="609.4" cy="395.9" r="0.6"/><circle cx="662.3" cy="377.3" r="0.9"/><circle cx="637.5" cy="380.6" r="0.7"/><circle cx="606.9" cy="381.7" r="0.6"/><circle cx="613.1" cy="397.8" r="1.0"/><circle cx="658.0" cy="378.1" r="0.6"/><circle cx="655.7" cy="377.3" r="0.9"/><circle cx="607.5" cy="397.5" r="0.5"/></g><g fill="#6a3a88" opacity="0.60"><circle cx="654.5" cy="403.5" r="0.7"/><circle cx="640.0" cy="411.3" r="0.9"/><circle cx="643.3" cy="405.0" r="1.1"/><circle cx="643.9" cy="407.1" r="0.7"/><circle cx="643.2" cy="410.3" r="1.0"/><circle cx="643.5" cy="399.3" r="0.6"/><circle cx="651.0" cy="405.9" r="0.7"/><circle cx="643.7" cy="407.8" r="1.0"/><circle cx="654.6" cy="407.3" r="0.7"/><circle cx="641.2" cy="409.7" r="0.8"/><circle cx="653.0" cy="398.9" r="1.0"/><circle cx="646.0" cy="411.5" r="1.0"/><circle cx="648.9" cy="398.2" r="1.1"/><circle cx="648.6" cy="412.0" r="0.7"/></g><g fill="#6a3a88" opacity="0.60"><circle cx="589.3" cy="412.0" r="0.8"/><circle cx="588.9" cy="406.5" r="0.9"/><circle cx="586.1" cy="408.2" r="0.8"/><circle cx="595.3" cy="403.4" r="1.0"/><circle cx="600.7" cy="412.4" r="0.8"/><circle cx="598.8" cy="406.6" r="1.0"/><circle cx="587.1" cy="412.5" r="1.1"/><circle cx="594.9" cy="408.2" r="0.9"/><circle cx="595.7" cy="402.2" r="1.1"/><circle cx="590.0" cy="404.2" r="0.7"/></g></g>
</g>
<rect x="581.5" y="76.2" width="84.5" height="349.1" filter="url(#grain)" opacity="0.55"/>
<rect x="581.5" y="76.2" width="84.5" height="349.1" filter="url(#grain2)" opacity="0.5"/>
<g filter="url(#b3)" font-family="Liberation Sans, 'Noto Sans CJK SC', sans-serif" font-size="9.8" font-weight="500" fill="#ffffff" opacity="0.88">
<text x="588.5" y="90.0" opacity="0.7">浅</text>
<text x="587.0" y="159.5" opacity="0.7">中等</text>
<text x="587.5" y="228.6">棕褐色</text>
<text x="587.5" y="299.6">褐色</text>
<text x="586.5" y="369.5">深色</text>
</g>
</g>
</svg>
<svg id="wmi" width="677" height="490" viewBox="0 0 677 490" style="position:absolute;left:0;top:0;pointer-events:none">
<defs><filter id="wb" x="-10%" y="-10%" width="120%" height="120%"><feGaussianBlur stdDeviation="0.35"/></filter></defs>
<g filter="url(#wb)">
<path d="M4.2,475.4 A10.5,10.5 0 0 0 12.6,483.3" stroke="#c96a2c" stroke-width="1.7" fill="none"/>
<g fill="#b2b2b2">
<path d="M413,445.2 C408,445.2 404.1,448.5 404.1,452.6 C404.1,454.9 405.3,456.9 407.2,458.3 L406.4,461.7 L409.6,459.6 C410.7,459.9 411.8,460.1 413,460.1 C417.9,460.1 421.9,456.7 421.9,452.6 C421.9,448.5 417.9,445.2 413,445.2 Z"/>
<path d="M421.3,451.3 C416.7,451.3 413,454.4 413,458.2 C413,462 416.7,465 421.3,465 C422.3,465 423.3,464.9 424.2,464.6 L426.9,466.2 L426.3,463.5 C428.3,462.2 429.6,460.3 429.6,458.2 C429.6,454.4 425.9,451.3 421.3,451.3 Z" stroke="#ffffff" stroke-width="1.2"/>
</g>
<g fill="#ffffff"><circle cx="409.9" cy="450.4" r="1.15"/><circle cx="416.3" cy="450.4" r="1.15"/><circle cx="418.7" cy="456.7" r="0.95"/><circle cx="423.9" cy="456.7" r="0.95"/></g>
</g></svg>
<div class="wm" style="left:434.7px;">公众号</div>
<div class="wm" style="left:495.4px;">·</div>
<div class="wm" style="left:509.6px;letter-spacing:1.1px;font-size:19.3px">3nh</div>
<div class="wm" style="left:543.6px;letter-spacing:0.85px">三恩时测色仪</div>
</body></html>
